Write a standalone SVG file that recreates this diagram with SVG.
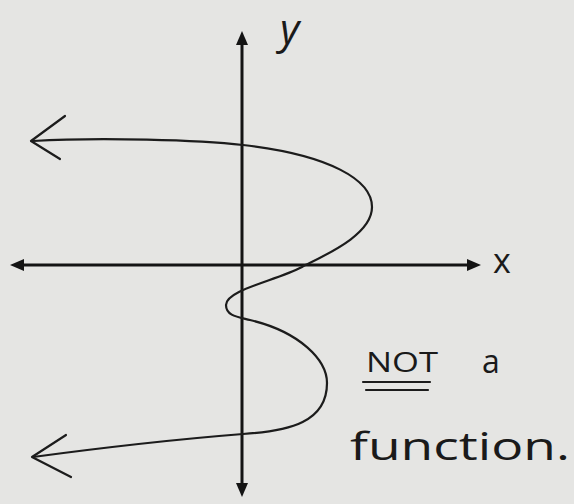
<svg xmlns="http://www.w3.org/2000/svg" width="574" height="504" viewBox="0 0 574 504">
<defs>
<style>
.axis{stroke:#141414;stroke-width:3;fill:none}
.curve{stroke:#1c1c1c;stroke-width:2.2;fill:none;stroke-linecap:round;stroke-linejoin:round}
.head{fill:#141414}
.hand{font-family:"Open Sans","DejaVu Sans",sans-serif;font-weight:400;fill:#1a1a1a}
</style>
</defs>
<rect width="574" height="504" fill="#e5e5e3"/>
<g id="connectors">
<g id="y-axis">
<line class="axis" x1="242" y1="44" x2="242" y2="486"/>
<polygon class="head" points="242,31 236,45 248,45"/>
<polygon class="head" points="242,497 236,483 248,483"/>
</g>
<g id="x-axis">
<line class="axis" x1="22" y1="265" x2="468" y2="265"/>
<polygon class="head" points="10,265 24,259 24,271"/>
<polygon class="head" points="481,265 467,259 467,271"/>
</g>
</g>
<g id="relation-curve">
<path class="curve" d="M 33,141 C 100,137 200,140 243,145 C 330,155 372,180 372,207 C 372,235 325,255 302,267 C 275,281 226,290 226,305 C 226,316 238,317 250,320 C 300,332 327,360 327,383 C 327,422 290,431 243,434 C 180,439 100,448 33,457"/>
<path class="curve" d="M 65,116 L 31,141 L 60,159"/>
<path class="curve" d="M 66,435 L 32,457 L 71,477"/>
</g>
<g id="label-y"><text class="hand" x="280" y="44" font-size="42" font-style="italic">y</text></g>
<g id="label-x"><text class="hand" x="493" y="273" font-size="34">x</text></g>
<g id="note">
<text class="hand" x="366" y="372" font-size="27" textLength="72" lengthAdjust="spacingAndGlyphs">NOT</text>
<line class="curve" x1="363" y1="382" x2="430" y2="382"/>
<line class="curve" x1="366" y1="390" x2="428" y2="390"/>
<text class="hand" x="482" y="373" font-size="32">a</text>
<text class="hand" x="350" y="460" font-size="38" textLength="220" lengthAdjust="spacingAndGlyphs">function.</text>
</g>
</svg>
